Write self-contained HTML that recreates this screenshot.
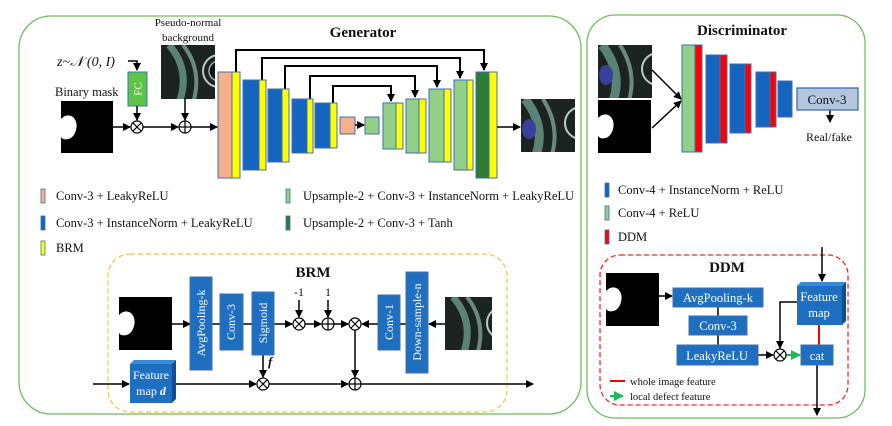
<!DOCTYPE html>
<html><head><meta charset="utf-8"><style>
html,body{margin:0;padding:0;background:#fff}
svg{display:block}
text{font-family:"Liberation Serif",serif;fill:#111}
</style></head><body>
<svg width="892" height="426" viewBox="0 0 892 426" xmlns="http://www.w3.org/2000/svg">
<defs>
<marker id="a" markerWidth="8" markerHeight="8" refX="7" refY="4" orient="auto" markerUnits="userSpaceOnUse"><path d="M0,0 L8,4 L0,8z" fill="#000"/></marker>
<marker id="g" markerWidth="10" markerHeight="10" refX="9" refY="5" orient="auto" markerUnits="userSpaceOnUse"><path d="M0,0 L10,5 L0,10z" fill="#1db954"/></marker>
<g id="img">
<rect width="54" height="58" fill="#1c2422"/>
<path d="M8,0 Q30,25 18,58" stroke="#6a9b8c" stroke-width="7" fill="none" opacity=".8"/>
<path d="M22,0 Q42,25 32,58" stroke="#8fb5a8" stroke-width="4" fill="none" opacity=".7"/>
<circle cx="58" cy="26" r="16" stroke="#b7cfc8" stroke-width="2" fill="none"/>
<circle cx="58" cy="26" r="10" stroke="#9ab" stroke-width="1.5" fill="#0c1210"/>
</g>
<g id="mask">
<rect width="53" height="58" fill="#000"/>
<path d="M0,18 Q6,12 12,16 Q18,22 14,32 Q10,40 2,38 L0,36z" fill="#fff"/>
</g>
<g id="out">
<rect width="54" height="59" fill="#1c2422"/>
<path d="M4,0 Q26,28 14,59" stroke="#6a9b8c" stroke-width="9" fill="none" opacity=".8"/>
<path d="M22,0 Q40,28 30,59" stroke="#8fb5a8" stroke-width="4" fill="none" opacity=".7"/>
<circle cx="60" cy="24" r="16" stroke="#b7cfc8" stroke-width="2" fill="none"/>
<ellipse cx="8" cy="30" rx="7" ry="10" fill="#3a3f9a"/>
</g>
</defs>

<!-- Generator box -->
<rect x="19" y="16" width="562" height="398" rx="32" fill="none" stroke="#6cbf5a" stroke-width="1.3"/>
<text x="363" y="37" font-size="15" font-weight="bold" text-anchor="middle">Generator</text>
<text x="188" y="26" font-size="11" text-anchor="middle">Pseudo-normal</text>
<text x="188" y="41" font-size="11" text-anchor="middle">background</text>
<svg x="161" y="45" width="54" height="54" overflow="hidden"><use href="#img"/></svg>
<text x="57" y="66" font-size="14" font-style="italic">z~𝒩 (0, I)</text>
<path d="M128,61 H137 V70" stroke="#000" stroke-width="1.5" fill="none" marker-end="url(#a)"/>
<rect x="128" y="72" width="19" height="34" fill="#5ec447" stroke="#3b78b8"/>
<text x="137.5" y="89" font-size="11" text-anchor="middle" transform="rotate(-90 137.5 89)" dy="4" style="fill:#fff">FC</text>
<text x="55" y="96" font-size="12.5">Binary mask</text>
<svg x="61" y="101" width="52" height="52" overflow="hidden"><use href="#mask"/></svg>
<line x1="137" y1="106" x2="137" y2="120" stroke="#000" stroke-width="1.5" marker-end="url(#a)"/>
<line x1="185" y1="99" x2="185" y2="120" stroke="#000" stroke-width="1.5" marker-end="url(#a)"/>
<line x1="113" y1="127" x2="130" y2="127" stroke="#000" stroke-width="1.5" marker-end="url(#a)"/>
<line x1="143" y1="127" x2="178" y2="127" stroke="#000" stroke-width="1.5" marker-end="url(#a)"/>
<line x1="191" y1="127" x2="217" y2="127" stroke="#000" stroke-width="1.5" marker-end="url(#a)"/>
<g stroke="#000" stroke-width="1.2" fill="#fff">
<circle cx="137" cy="127" r="6"/><path d="M133,123 L141,131 M141,123 L133,131"/>
<circle cx="185" cy="127" r="6"/><path d="M179,127 H191 M185,121 V133"/>
</g>
<!-- skip connections -->
<g stroke="#000" stroke-width="2" fill="none">
<path d="M236,72 V50 H484 V70" marker-end="url(#a)"/>
<path d="M262,80 V58 H460 V78" marker-end="url(#a)"/>
<path d="M285,89 V66 H437 V87" marker-end="url(#a)"/>
<path d="M310,99 V76 H415 V97" marker-end="url(#a)"/>
<path d="M333,103 V86 H391 V101" marker-end="url(#a)"/>
</g>
<g stroke="#3d6fae" stroke-width="1">
<rect x="218" y="72" width="14" height="106" fill="#f8b08a"/><rect x="232" y="72" width="8" height="106" fill="#ffff00"/>
<rect x="243" y="80" width="16" height="90" fill="#1565c0"/><rect x="259" y="80" width="7" height="90" fill="#ffff00"/>
<rect x="268" y="89" width="14" height="73" fill="#1565c0"/><rect x="282" y="89" width="7" height="73" fill="#ffff00"/>
<rect x="292" y="99" width="15" height="54" fill="#1565c0"/><rect x="307" y="99" width="6" height="54" fill="#ffff00"/>
<rect x="315" y="103" width="15" height="45" fill="#1565c0"/><rect x="330" y="103" width="7" height="45" fill="#ffff00"/>
<rect x="340" y="117" width="15" height="17" fill="#f8b08a"/>
<rect x="365" y="117" width="14" height="17" fill="#92d08a"/>
<rect x="383" y="103" width="13" height="46" fill="#92d08a"/><rect x="396" y="103" width="7" height="46" fill="#ffff00"/>
<rect x="406" y="99" width="13" height="54" fill="#92d08a"/><rect x="419" y="99" width="7" height="54" fill="#ffff00"/>
<rect x="429" y="89" width="15" height="73" fill="#92d08a"/><rect x="444" y="89" width="7" height="73" fill="#ffff00"/>
<rect x="454" y="80" width="13" height="90" fill="#92d08a"/><rect x="467" y="80" width="6" height="90" fill="#ffff00"/>
<rect x="476" y="72" width="13" height="106" fill="#2e7d32"/><rect x="489" y="72" width="8" height="106" fill="#ffff00"/>
</g>
<line x1="355" y1="125" x2="364" y2="125" stroke="#000" stroke-width="1.5" marker-end="url(#a)"/>
<line x1="497" y1="127" x2="520" y2="127" stroke="#000" stroke-width="1.5" marker-end="url(#a)"/>
<svg x="521" y="99" width="54" height="53" overflow="hidden"><use href="#out"/></svg>
<!-- Gen legend -->
<g font-size="12.5">
<rect x="41" y="189" width="4" height="14" fill="#f8b08a" stroke="#3d6fae" stroke-width=".8"/><text x="56" y="200">Conv-3 + LeakyReLU</text>
<rect x="41" y="216" width="4" height="14" fill="#1565c0" stroke="#3d6fae" stroke-width=".8"/><text x="56" y="227">Conv-3 + InstanceNorm + LeakyReLU</text>
<rect x="41" y="241" width="4" height="14" fill="#ffff00" stroke="#3d6fae" stroke-width=".8"/><text x="56" y="252">BRM</text>
<rect x="286" y="189" width="4" height="14" fill="#92d08a" stroke="#3d6fae" stroke-width=".8"/><text x="303" y="200">Upsample-2 + Conv-3 + InstanceNorm + LeakyReLU</text>
<rect x="286" y="216" width="4" height="14" fill="#2e7d32" stroke="#3d6fae" stroke-width=".8"/><text x="303" y="227">Upsample-2 + Conv-3 + Tanh</text>
</g>

<!-- BRM -->
<rect x="108" y="254" width="399" height="158" rx="22" fill="none" stroke="#f5c342" stroke-width="1.2" stroke-dasharray="5,3"/>
<text x="313" y="277" font-size="15" font-weight="bold" text-anchor="middle">BRM</text>
<svg x="119" y="297" width="53" height="53" overflow="hidden"><use href="#mask"/></svg>
<svg x="445" y="297" width="47" height="53" overflow="hidden"><use href="#img"/></svg>
<g stroke="#000" stroke-width="1.5" fill="none">
<line x1="172" y1="324" x2="190" y2="324" marker-end="url(#a)"/>
<line x1="212" y1="324" x2="220" y2="324"/>
<line x1="243" y1="324" x2="252" y2="324"/>
<line x1="274" y1="324" x2="292" y2="324" marker-end="url(#a)"/>
<line x1="305" y1="324" x2="321" y2="324" marker-end="url(#a)"/>
<line x1="334" y1="324" x2="348" y2="324" marker-end="url(#a)"/>
<line x1="378" y1="324" x2="362" y2="324" marker-end="url(#a)"/>
<line x1="406" y1="324" x2="400" y2="324"/>
<line x1="445" y1="324" x2="429" y2="324" marker-end="url(#a)"/>
<line x1="299" y1="300" x2="299" y2="317" marker-end="url(#a)"/>
<line x1="328" y1="300" x2="328" y2="317" marker-end="url(#a)"/>
<line x1="263" y1="355" x2="263" y2="377" marker-end="url(#a)"/>
<line x1="355" y1="330" x2="355" y2="377" marker-end="url(#a)"/>
<line x1="93" y1="384" x2="129" y2="384" marker-end="url(#a)"/>
<line x1="172" y1="384" x2="256" y2="384" marker-end="url(#a)"/>
<line x1="269" y1="384" x2="348" y2="384" marker-end="url(#a)"/>
<line x1="361" y1="384" x2="533" y2="384" marker-end="url(#a)"/>
</g>
<text x="299" y="296" font-size="12" text-anchor="middle">-1</text>
<text x="328" y="296" font-size="12" text-anchor="middle">1</text>
<text x="268" y="366" font-size="13" font-style="italic" font-weight="bold">f</text>
<g stroke="#000" stroke-width="1.2" fill="#fff">
<circle cx="299" cy="324" r="6"/><path d="M295,320 L303,328 M303,320 L295,328"/>
<circle cx="328" cy="324" r="6"/><path d="M322,324 H334 M328,318 V330"/>
<circle cx="355" cy="324" r="6"/><path d="M351,320 L359,328 M359,320 L351,328"/>
<circle cx="263" cy="384" r="6"/><path d="M259,380 L267,388 M267,380 L259,388"/>
<circle cx="355" cy="384" r="6"/><path d="M349,384 H361 M355,378 V390"/>
</g>
<g fill="#1e6fc0" stroke="#3d6fae">
<rect x="190" y="277" width="22" height="93"/>
<rect x="220" y="294" width="23" height="56"/>
<rect x="252" y="292" width="22" height="63"/>
<rect x="378" y="295" width="22" height="55"/>
<rect x="406" y="272" width="22" height="101"/>
</g>
<g font-size="12" text-anchor="middle">
<text x="205" y="323" transform="rotate(-90 205 323)" style="fill:#fff">AvgPooling-k</text>
<text x="235" y="322" transform="rotate(-90 235 322)" style="fill:#fff">Conv-3</text>
<text x="267" y="323" transform="rotate(-90 267 323)" style="fill:#fff">Sigmoid</text>
<text x="393" y="322" transform="rotate(-90 393 322)" style="fill:#fff">Conv-1</text>
<text x="421" y="322" transform="rotate(-90 421 322)" style="fill:#fff">Down-sample-n</text>
</g>
<path d="M130,364 L134,360 L176,360 L172,364z" fill="#3a8ad8"/>
<path d="M172,364 L176,360 L176,399 L172,403z" fill="#0d4f94"/>
<rect x="130" y="364" width="42" height="39" fill="#1e6fc0"/>
<text x="151" y="379" font-size="12" text-anchor="middle" style="fill:#fff">Feature</text>
<text x="151" y="395" font-size="12" text-anchor="middle" style="fill:#fff">map <tspan font-weight="bold" font-style="italic">d</tspan></text>

<!-- Discriminator -->
<rect x="587" y="15" width="278" height="403" rx="28" fill="none" stroke="#6cbf5a" stroke-width="1.3"/>
<text x="742" y="35" font-size="15" font-weight="bold" text-anchor="middle">Discriminator</text>
<svg x="598" y="45" width="54" height="53" overflow="hidden"><use href="#out"/></svg>
<svg x="598" y="100" width="54" height="53" overflow="hidden"><use href="#mask"/></svg>
<g stroke="#000" stroke-width="1.5">
<line x1="652" y1="70" x2="681" y2="99" marker-end="url(#a)"/>
<line x1="652" y1="128" x2="681" y2="101" marker-end="url(#a)"/>
<line x1="830" y1="110" x2="830" y2="122" marker-end="url(#a)"/>
</g>
<g stroke="#3d6fae" stroke-width="1">
<rect x="682" y="45" width="13" height="107" fill="#92d08a"/><rect x="695" y="45" width="7" height="107" fill="#ff0000"/>
<rect x="706" y="55" width="14" height="88" fill="#1565c0"/><rect x="720" y="55" width="7" height="88" fill="#ff0000"/>
<rect x="730" y="64" width="15" height="69" fill="#1565c0"/><rect x="745" y="64" width="6" height="69" fill="#ff0000"/>
<rect x="756" y="72" width="14" height="55" fill="#1565c0"/><rect x="770" y="72" width="6" height="55" fill="#ff0000"/>
<rect x="778" y="81" width="14" height="36" fill="#1565c0"/>
<rect x="797" y="88" width="61" height="22" fill="#b3c6dd" stroke-width="1.3"/>
</g>
<text x="827" y="104" font-size="13" text-anchor="middle">Conv-3</text>
<text x="829" y="141" font-size="12" text-anchor="middle">Real/fake</text>
<g font-size="12.5">
<rect x="605" y="183" width="4" height="14" fill="#1565c0" stroke="#3d6fae" stroke-width=".8"/><text x="618" y="194">Conv-4 + InstanceNorm + ReLU</text>
<rect x="605" y="206" width="4" height="14" fill="#92d08a" stroke="#3d6fae" stroke-width=".8"/><text x="618" y="217">Conv-4 + ReLU</text>
<rect x="605" y="230" width="4" height="14" fill="#ff0000" stroke="#3d6fae" stroke-width=".8"/><text x="618" y="241">DDM</text>
</g>
<!-- DDM -->
<rect x="600" y="255" width="248" height="150" rx="20" fill="none" stroke="#ff2020" stroke-width="1.3" stroke-dasharray="5,3"/>
<text x="727" y="272" font-size="15" font-weight="bold" text-anchor="middle">DDM</text>
<svg x="606" y="273" width="53" height="53" overflow="hidden"><use href="#mask"/></svg>
<g stroke="#000" stroke-width="1.5" fill="none">
<line x1="658" y1="296" x2="672" y2="296" marker-end="url(#a)"/>
<line x1="718" y1="307" x2="718" y2="316"/>
<line x1="718" y1="335" x2="718" y2="345"/>
<line x1="758" y1="355" x2="773" y2="355" marker-end="url(#a)"/>
<path d="M797,302 H780 V348" marker-end="url(#a)"/>
<line x1="822" y1="247" x2="822" y2="281" marker-end="url(#a)"/>
<line x1="817" y1="365" x2="817" y2="415" marker-end="url(#a)"/>
</g>
<line x1="786" y1="355" x2="800" y2="355" stroke="#1db954" stroke-width="2" marker-end="url(#g)"/>
<line x1="819" y1="325" x2="819" y2="345" stroke="#ff0000" stroke-width="2"/>
<g stroke="#000" stroke-width="1.2" fill="#fff">
<circle cx="780" cy="355" r="6"/><path d="M776,351 L784,359 M784,351 L776,359"/>
</g>
<g fill="#1e6fc0" stroke="#3d6fae">
<rect x="673" y="288" width="90" height="19"/>
<rect x="689" y="316" width="58" height="19"/>
<rect x="677" y="345" width="81" height="20"/>
<rect x="801" y="345" width="32" height="20"/>
</g>
<path d="M797,286 L801,282 L846,282 L842,286z" fill="#3a8ad8"/>
<path d="M842,286 L846,282 L846,321 L842,325z" fill="#0d4f94"/>
<rect x="797" y="286" width="45" height="39" fill="#1e6fc0"/>
<g font-size="12.5" text-anchor="middle">
<text x="718" y="302" style="fill:#fff">AvgPooling-k</text>
<text x="718" y="330" style="fill:#fff">Conv-3</text>
<text x="717" y="360" style="fill:#fff">LeakyReLU</text>
<text x="817" y="360" style="fill:#fff">cat</text>
<text x="819" y="301" style="fill:#fff">Feature</text>
<text x="819" y="317" style="fill:#fff">map</text>
</g>
<line x1="610" y1="381" x2="625" y2="381" stroke="#ff0000" stroke-width="2"/>
<text x="630" y="385" font-size="10.5">whole image feature</text>
<line x1="610" y1="396" x2="623" y2="396" stroke="#1db954" stroke-width="2" marker-end="url(#g)"/>
<text x="630" y="400" font-size="10.5">local defect feature</text>
</svg>
</body></html>
